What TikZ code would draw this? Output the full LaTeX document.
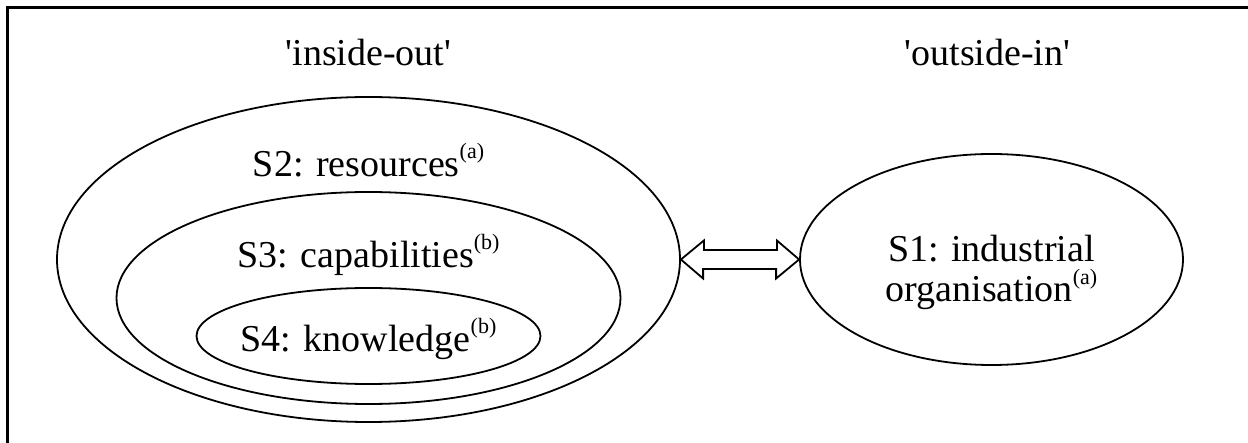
\documentclass[tikz,border=0pt]{standalone}
\usepackage{fontspec}
\setmainfont{Liberation Serif}
\usetikzlibrary{shapes.geometric,positioning}
\newcommand{\supnote}[1]{\raisebox{0.46em}{\fontsize{11}{12}\selectfont(#1)}}

\begin{document}
\begin{tikzpicture}[x=0.5pt, y=-0.5pt, on grid, line width=0.9pt,
    ring/.style={draw, ellipse, inner sep=0pt},
    caption/.style={font=\fontsize{19}{20}\selectfont, anchor=base, inner sep=0pt}]
   \useasboundingbox (0,0) rectangle (1248,443);
   \draw[line width=1.1pt] (7.5,443) |- (1248,7.5);
   \node[ring, minimum width=311.5pt, minimum height=162.5pt] (s2) at (368.5,259.5) {};
   \node[ring, minimum width=252pt, minimum height=106pt] (s3) [below=19.25pt of s2] {};
   \node[ring, minimum width=172pt, minimum height=48pt] (s4) [below=19pt of s3] {};
   \node[ring, minimum width=191.5pt, minimum height=105.5pt] (s1) [right=311.5pt of s2] {};
   \node[caption] (inout) at ([yshift=15.5pt]s2.north) {\textquotesingle inside-out\textquotesingle};
   \node[caption] (outin) at ([xshift=-2pt, yshift=44pt]s1.north) {\textquotesingle outside-in\textquotesingle};
   \node[caption] (s2_text) at ([yshift=-40pt]s2.north) {S2: resources\supnote{a}};
   \node[caption] (s3_text) at ([yshift=-38pt]s3.north) {S3: capabilities\supnote{b}};
   \node[caption] (s4_text) at ([yshift=-32pt]s4.north) {S4: knowledge\supnote{b}};
   \node[caption, align=center] (s1_text) at ([yshift=-21pt]s1.center) {S1: industrial\\organisation\supnote{a}};
   \draw (s2.east) -- ++(23,-19) -- ++(0,9.5) -- ++(73,0) -- ++(0,-9.5) -- (s1.west)
         -- ++(-23,19) -- ++(0,-9.5) -- ++(-73,0) -- ++(0,9.5) -- cycle;
\end{tikzpicture}
\end{document}
